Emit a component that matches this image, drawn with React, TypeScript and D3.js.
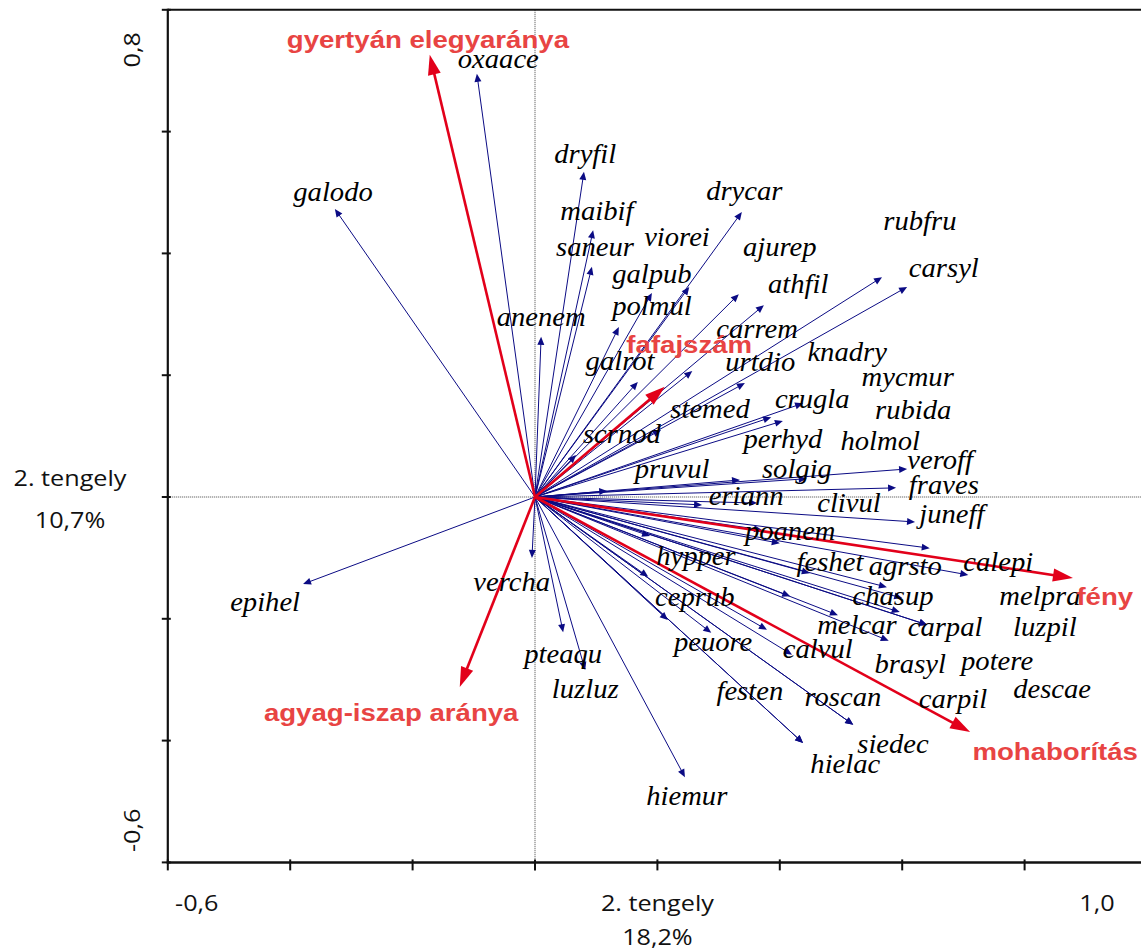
import React from "react";
import * as d3 from "d3";

// Species scores (arrow tips) and label anchor positions, in axis units
const speciesNames = [
  "galodo","epihel","oxaace","dryfil","maibif","saneur","anenem","galpub","polmul","galrot",
  "drycar","viorei","ajurep","athfil","rubfru","carsyl","carrem","urtdio","stemed","scrnod",
  "crugla","knadry","mycmur","rubida","perhyd","holmol","veroff","pruvul","solgig","fraves",
  "eriann","clivul","juneff","poanem","calepi","hypper","feshet","agrsto","vercha","melpra",
  "ceprub","chasup","melcar","carpal","luzpil","pteaqu","peuore","calvul","brasyl","potere",
  "luzluz","festen","roscan","carpil","descae","siedec","hielac","hiemur"
];
const speciesX = [
  -0.327,-0.379,-0.095,0.080,0.095,0.093,0.010,0.191,0.137,0.168,
  0.338,0.252,0.333,0.374,0.567,0.608,0.257,0.343,0.206,0.067,
  0.438,0.405,0.386,0.371,0.335,0.188,0.608,0.118,0.444,0.590,
  0.363,0.273,0.621,0.400,0.708,0.185,0.449,0.645,-0.005,0.600,
  0.217,0.575,0.495,0.641,0.596,0.046,0.288,0.420,0.578,0.417,
  0.082,0.438,0.520,0.379,0.641,0.520,0.438,0.245
];
const speciesY = [
  0.473,-0.143,0.695,0.534,0.438,0.378,0.263,0.335,0.279,0.189,
  0.468,0.345,0.333,0.315,0.361,0.345,0.207,0.187,0.110,0.069,
  0.154,0.125,0.131,-0.054,0.028,-0.064,0.046,0.010,0.030,0.015,
  -0.010,-0.013,-0.041,-0.076,-0.128,-0.131,-0.125,-0.084,-0.100,-0.166,
  -0.202,-0.148,-0.194,-0.210,-0.189,-0.222,-0.223,-0.259,-0.236,-0.163,
  -0.284,-0.404,-0.374,-0.218,-0.210,-0.374,-0.404,-0.460
];
const labelX = [
  -0.330,-0.441,-0.060,0.082,0.101,0.098,0.010,0.191,0.191,0.139,
  0.342,0.232,0.400,0.430,0.629,0.668,0.363,0.368,0.286,0.142,
  0.453,0.510,0.609,0.618,0.405,0.564,0.662,0.224,0.428,0.668,
  0.345,0.513,0.681,0.417,0.757,0.263,0.482,0.605,-0.038,0.825,
  0.261,0.585,0.526,0.670,0.833,0.046,0.291,0.462,0.613,0.755,
  0.082,0.351,0.503,0.683,0.845,0.585,0.507,0.248
];
const labelY = [
  0.499,-0.174,0.718,0.562,0.468,0.409,0.294,0.365,0.312,0.222,
  0.501,0.425,0.409,0.348,0.452,0.374,0.274,0.220,0.143,0.102,
  0.159,0.236,0.195,0.141,0.094,0.090,0.059,0.044,0.044,0.018,
  0.000,-0.011,-0.030,-0.057,-0.108,-0.099,-0.108,-0.115,-0.141,-0.164,
  -0.166,-0.164,-0.212,-0.215,-0.215,-0.259,-0.240,-0.251,-0.276,-0.271,
  -0.317,-0.320,-0.330,-0.333,-0.317,-0.407,-0.440,-0.493
];

// Environmental variables
const envNames = ["gyertyán elegyaránya","fafajszám","fény","mohaborítás","agyag-iszap aránya"];
const envX = [-0.172,0.212,0.879,0.711,-0.123];
const envY = [0.726,0.181,-0.133,-0.386,-0.312];
const envLabelX = [-0.175,0.252,0.931,0.850,-0.235];
const envLabelY = [0.750,0.250,-0.164,-0.419,-0.355];

const xTicks = [-0.6,-0.4,-0.2,0,0.2,0.4,0.6,0.8,1.0];
const yTicks = [0.8,0.6,0.4,0.2,0,-0.2,-0.4,-0.6];
const xTickLabels = ["-0,6","1,0"];
const yTickLabels = ["0,8","-0,6"];
const xAxisTitle = ["2. tengely","18,2%"];
const yAxisTitle = ["2. tengely","10,7%"];

const W = 1141, H = 952;
const x = d3.scaleLinear().domain([-0.6, 1.0]).range([167.8, 167.8 + 1.6 * 612]);
const y = d3.scaleLinear().domain([0.8, -0.6]).range([497 - 0.8 * 609, 497 + 0.6 * 609]);

const NAVY = "#0b0b84";
const RED = "#e2001a";
const RED_TXT = "#e84443";

function Arrow({ x1, y1, x2, y2, color, width, headLen, headHalf }) {
  const dx = x2 - x1, dy = y2 - y1;
  const len = Math.sqrt(dx * dx + dy * dy);
  const ux = dx / len, uy = dy / len;
  const bx = x2 - ux * headLen, by = y2 - uy * headLen;
  const px = -uy, py = ux;
  const pts = [
    [x2, y2],
    [bx + px * headHalf, by + py * headHalf],
    [bx - px * headHalf, by - py * headHalf],
  ];
  return (
    <g>
      <line x1={x1} y1={y1} x2={bx + ux * 1} y2={by + uy * 1} stroke={color} strokeWidth={width} />
      <polygon points={pts.map((p) => p.join(",")).join(" ")} fill={color} />
    </g>
  );
}

function SText({ cx, cy, children, size, family, weight, italic, fill, rotate, sx }) {
  const s = sx || 1.2;
  const tr = rotate
    ? `translate(${cx},${cy}) rotate(${rotate}) scale(${s},1)`
    : `translate(${cx},${cy}) scale(${s},1)`;
  return (
    <text
      transform={tr}
      textAnchor="middle"
      fontSize={size}
      fontFamily={family}
      fontWeight={weight || "normal"}
      fontStyle={italic ? "italic" : "normal"}
      fill={fill}
    >
      {children}
    </text>
  );
}

export default function App() {
  const ox = x(0), oy = y(0);
  const left = x(-0.6);
  const bottom = y(-0.6);
  const top = y(0.8);
  const serif = "'Liberation Serif', 'Times New Roman', serif";
  const sans = "'Liberation Sans', Arial, sans-serif";
  const ui = "'Open Sans', 'Noto Sans', sans-serif";
  return (
    <svg width={W} height={H} style={{ position: "absolute", left: 0, top: 0, background: "#fff" }}>
      <rect x={0} y={0} width={W} height={H} fill="#fff" />
      {/* zero lines */}
      <line x1={left} x2={W} y1={oy} y2={oy} stroke="#444" strokeWidth={1} strokeDasharray="1,1" />
      <line x1={ox} x2={ox} y1={top} y2={bottom} stroke="#444" strokeWidth={1} strokeDasharray="1,1" />

      {/* frame */}
      <line x1={left} x2={W} y1={top} y2={top} stroke="#111" strokeWidth={2} />
      <line x1={left} x2={left} y1={top - 1} y2={bottom + 1} stroke="#111" strokeWidth={2.2} />
      <line x1={left - 1} x2={W} y1={bottom} y2={bottom} stroke="#111" strokeWidth={2.5} />
      {xTicks.map((t) => (
        <line key={"xt" + t} x1={x(t)} x2={x(t)} y1={bottom - 3} y2={bottom + 8} stroke="#111" strokeWidth={2} />
      ))}
      {yTicks.map((t) => (
        <line key={"yt" + t} x1={left - 6} x2={left + 3} y1={y(t)} y2={y(t)} stroke="#111" strokeWidth={2} />
      ))}

      {/* axis labels */}
      <SText cx={x(-0.6) + 29} cy={911} size={21} family={ui} fill="#111">{xTickLabels[0]}</SText>
      <SText cx={x(1.0) - 50} cy={911} size={21} family={ui} fill="#111">{xTickLabels[1]}</SText>
      <SText cx={x(0.2)} cy={911} size={21} family={ui} fill="#111">{xAxisTitle[0]}</SText>
      <SText cx={x(0.2)} cy={945} size={21} family={ui} fill="#111">{xAxisTitle[1]}</SText>
      <SText cx={70} cy={486} size={21} family={ui} fill="#111">{yAxisTitle[0]}</SText>
      <SText cx={70} cy={528} size={21} family={ui} fill="#111">{yAxisTitle[1]}</SText>
      <SText cx={140} cy={y(0.8) + 40} size={21} family={ui} fill="#111" rotate={-90}>{yTickLabels[0]}</SText>
      <SText cx={140} cy={y(-0.6) - 32} size={21} family={ui} fill="#111" rotate={-90}>{yTickLabels[1]}</SText>

      {/* species arrows */}
      {speciesNames.map((n, i) => (
        <Arrow key={"sa" + n} x1={ox} y1={oy} x2={x(speciesX[i])} y2={y(speciesY[i])}
          color={NAVY} width={1} headLen={8} headHalf={3.5} />
      ))}
      {/* environmental arrows */}
      {envNames.map((n, i) => (
        <Arrow key={"ea" + n} x1={ox} y1={oy} x2={x(envX[i])} y2={y(envY[i])}
          color={RED} width={2.6} headLen={20} headHalf={6.5} />
      ))}
      {/* species labels */}
      {speciesNames.map((n, i) => (
        <SText key={"sl" + n} cx={x(labelX[i])} cy={y(labelY[i]) + 8} size={26.5} family={serif} italic fill="#000" sx={1.08}>{n}</SText>
      ))}
      {/* env labels */}
      {envNames.map((n, i) => (
        <SText key={"el" + n} cx={x(envLabelX[i])} cy={y(envLabelY[i]) + 8} size={23} family={sans} weight="bold" fill={RED_TXT}>{n}</SText>
      ))}
    </svg>
  );
}
